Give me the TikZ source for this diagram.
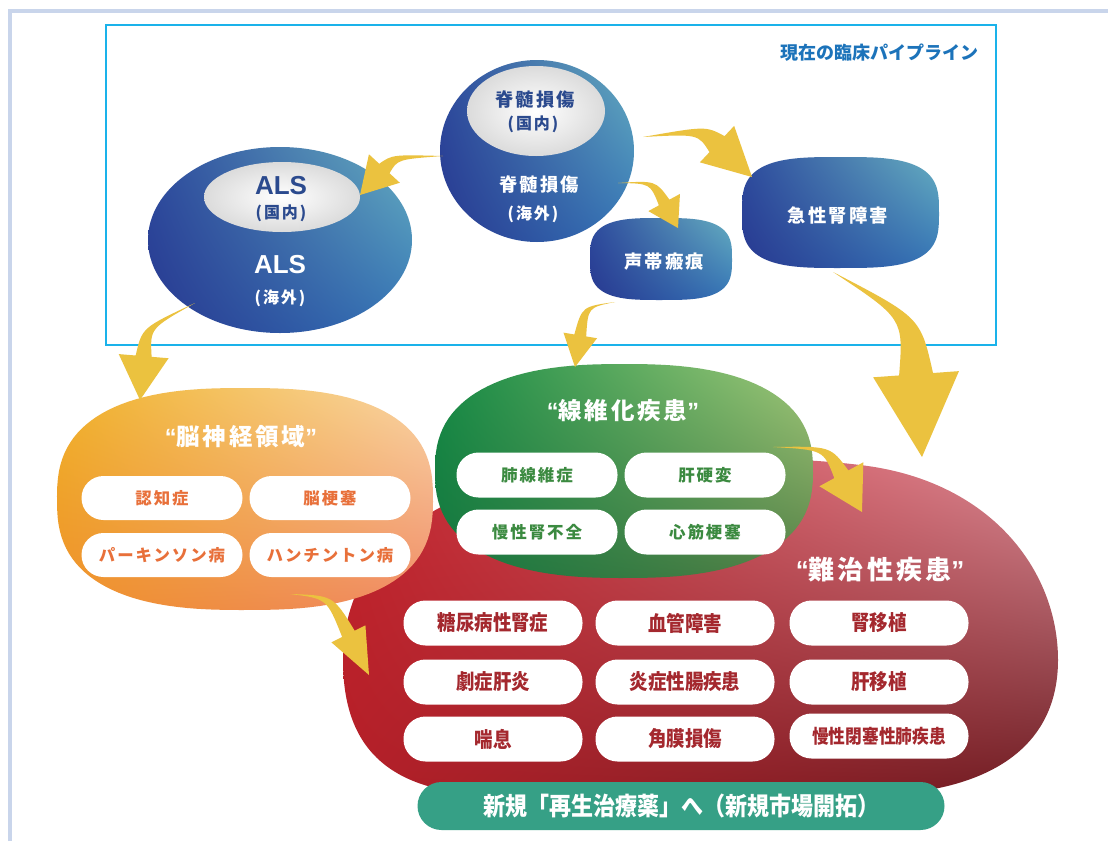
\documentclass[tikz,border=0pt]{standalone}
\usepackage{fontspec}
\newfontfamily\jp{Noto Sans CJK JP}
\newfontfamily\jpsp{Noto Sans CJK JP}[LetterSpace=12]
\newfontfamily\jpcond{Noto Sans CJK JP}[FakeStretch=0.88]
\newfontfamily\lat{Liberation Sans}
\usetikzlibrary{calc,shadings}
\definecolor{frameblue}{HTML}{C9D5EB}
\definecolor{boxcyan}{HTML}{1AB2EA}
\definecolor{labelblue}{HTML}{1C73BA}
\definecolor{navy}{HTML}{2B4A8E}
\definecolor{yel}{HTML}{EBC23F}
\definecolor{bUL}{HTML}{2D4C9E}
\definecolor{bUR}{HTML}{66AEC0}
\definecolor{bLL}{HTML}{283890}
\definecolor{bLR}{HTML}{3474B6}
\definecolor{oUL}{HTML}{F0B22A}
\definecolor{oUR}{HTML}{F9D7A8}
\definecolor{oLL}{HTML}{EE902A}
\definecolor{oLR}{HTML}{F08966}
\definecolor{gUL}{HTML}{168B45}
\definecolor{gUR}{HTML}{A3CA7A}
\definecolor{gLL}{HTML}{15763F}
\definecolor{gLR}{HTML}{557E45}
\definecolor{rUL}{HTML}{C3232C}
\definecolor{rUR}{HTML}{DE8E98}
\definecolor{rLL}{HTML}{B41F28}
\definecolor{rLR}{HTML}{6C1C22}
\definecolor{barg}{HTML}{36A086}
\definecolor{otext}{HTML}{E8703A}
\definecolor{gtext}{HTML}{3B8A40}
\definecolor{rtext}{HTML}{A4282E}
\newcommand\myoq{{\lat\bfseries “}}
\newcommand\mycq{{\lat\bfseries ”}}
\newcommand\blobpath[5]{plot[domain=0.5:360.5,samples=121,variable=\t]({#1+#3*sign(cos(\t))*abs(cos(\t))^#5},{#2+#4*sign(sin(\t))*abs(sin(\t))^#5}) -- cycle}
% tail, control, tip, half body width, half head width, head length
\newcommand\yarrow[6]{%
  \path ($(#3)!#6!(#2)$) coordinate (yaH);
  \fill[yel]
    (#1) .. controls ($(#2)!#4/2!90:(#3)$) .. ($(yaH)!#4!90:(#3)$)
    -- ($(yaH)!#5!90:(#3)$) -- (#3) -- ($(yaH)!#5!-90:(#3)$)
    -- ($(yaH)!#4!-90:(#3)$) .. controls ($(#2)!#4/2!-90:(#3)$) .. (#1) -- cycle;
}
\tikzset{
  bluesh/.style={upper left=bUL, upper right=bUR, lower left=bLL, lower right=bLR},
  orsh/.style={upper left=oUL, upper right=oUR, lower left=oLL, lower right=oLR},
  grsh/.style={upper left=gUL, upper right=gUR, lower left=gLL, lower right=gLR},
  rdsh/.style={upper left=rUL, upper right=rUR, lower left=rLL, lower right=rLR},
  whsh/.style={inner color=white, outer color=black!14},
  bigtxt/.style={inner sep=0pt, font=\jpsp\bfseries\fontsize{18.3}{20}\selectfont},
  partxt/.style={inner sep=0pt, font=\jpsp\bfseries\fontsize{16}{18}\selectfont},
  alstxt/.style={inner sep=0pt, font=\lat\bfseries\fontsize{26}{28}\selectfont},
  ttl/.style={inner sep=0pt, text=white},
  pill/.style={fill=white, rounded corners=22pt, minimum width=161pt, minimum height=44pt, inner sep=0pt},
  opill/.style={pill, text=otext, font=\jpsp\bfseries\fontsize{16.4}{18}\selectfont},
  gpill/.style={pill, text=gtext, font=\jpsp\bfseries\fontsize{16.5}{18}\selectfont},
  rpill/.style={pill, minimum width=179pt, minimum height=45pt, text=rtext, font=\jpcond\bfseries\fontsize{21}{23}\selectfont},
}
\begin{document}
\begin{tikzpicture}[x=1pt,y=-1pt]
\useasboundingbox (0,0) rectangle (1108,841);
\fill[white] (0,0) rectangle (1108,841);
% outer frame
\draw[frameblue, line width=4pt] (10,841) -- (10,11) -- (1108,11);
% red blob
\shade[rdsh] (343,660) .. controls (343,560) and (420,500) .. (520,480)
  .. controls (650,455) and (780,455) .. (860,465)
  .. controls (990,480) and (1058,570) .. (1058,660)
  .. controls (1058,740) and (1000,790) .. (880,795)
  -- (500,795) .. controls (380,795) and (343,740) .. (343,660) -- cycle;
% orange and green blobs
\shade[orsh] \blobpath{245}{499}{188}{111}{0.77};
\shade[grsh] \blobpath{624}{471}{189}{107}{0.8};
% bottom bar
\node[fill=barg, rounded corners=24pt, minimum width=527pt, minimum height=48pt, inner sep=0pt,
      text=white, font=\jpcond\bfseries\fontsize{25}{27}\selectfont] (bar) at (681,806) {新規「再生治療薬」へ（新規市場開拓）};
% pipeline box
\draw[boxcyan, line width=2pt] (106,25) rectangle (996,345);
\node[anchor=east, inner sep=0pt, text=labelblue, font=\jp\bfseries\fontsize{18}{20}\selectfont] (plabel) at (979,53) {現在の臨床パイプライン};
% ALS
\shade[bluesh] (280,240) ellipse [x radius=132, y radius=93];
\shade[whsh] (282,197) ellipse [x radius=78, y radius=35];
\node[alstxt, text=navy] (alsin) at (281,186) {ALS};
\node[partxt, text=navy] (alsin2) at (281,213) {(国内)};
\node[alstxt, text=white] (alsout) at (280,265) {ALS};
\node[partxt, text=white] (alsout2) at (280,298) {(海外)};
% spinal cord
\shade[bluesh] (537,151) ellipse [x radius=97, y radius=91];
\shade[whsh] (536,111) ellipse [x radius=69, y radius=45];
\node[bigtxt, text=navy] (spin) at (535,100) {脊髄損傷};
\node[partxt, text=navy] (spin2) at (533,124) {(国内)};
\node[bigtxt, text=white] (spout) at (539,185) {脊髄損傷};
\node[partxt, text=white] (spout2) at (533,214) {(海外)};
% vocal fold scar
\shade[bluesh] \blobpath{661}{259}{71}{41}{0.62};
\node[bigtxt, text=white] (vocal) at (664,262) {声帯瘢痕};
% acute kidney injury
\shade[bluesh] \blobpath{840.5}{212.5}{98.5}{55.5}{0.62};
\node[bigtxt, text=white] (aki) at (838,215) {急性腎障害};
% neuro
\node[ttl, font=\jpsp\bfseries\fontsize{23.5}{26}\selectfont] (otitle) at (241,437) {\myoq 脳神経領域\mycq};
\node[opill] (o1) at (162,498) {認知症};
\node[opill] (o2) at (330,498) {脳梗塞};
\node[opill] (o3) at (162,555) {パーキンソン病};
\node[opill] (o4) at (330,555) {ハンチントン病};
% fibrosis
\node[ttl, font=\jpsp\bfseries\fontsize{23.5}{26}\selectfont] (gtitle) at (623,411) {\myoq 線維化疾患\mycq};
\node[gpill, minimum height=45pt] (g1) at (537,475) {肺線維症};
\node[gpill, minimum height=45pt] (g2) at (705,475) {肝硬変};
\node[gpill, minimum height=45pt] (g3) at (537,532) {慢性腎不全};
\node[gpill, minimum height=45pt] (g4) at (705,532) {心筋梗塞};
% intractable
\node[ttl, font=\jpsp\bfseries\fontsize{26}{28}\selectfont] (rtitle) at (880,570) {\myoq 難治性疾患\mycq};
\node[rpill] (r1) at (493,623) {糖尿病性腎症};
\node[rpill] (r2) at (685,623) {血管障害};
\node[rpill] (r3) at (879,623) {腎移植};
\node[rpill] (r4) at (493,682) {劇症肝炎};
\node[rpill] (r5) at (685,682) {炎症性腸疾患};
\node[rpill] (r6) at (879,682) {肝移植};
\node[rpill] (r7) at (493,739) {喘息};
\node[rpill] (r8) at (685,739) {角膜損傷};
\node[rpill, font=\jpcond\bfseries\fontsize{19}{21}\selectfont] (r9) at (879,736) {慢性閉塞性肺疾患};
% arrows
\coordinate (a1t) at (443,156); \coordinate (a1c) at (395,157); \coordinate (a1p) at (360,195);
\yarrow{a1t}{a1c}{a1p}{7pt}{21pt}{36pt}
\coordinate (a2t) at (643,137); \coordinate (a2c) at (702,130); \coordinate (a2p) at (752,177);
\yarrow{a2t}{a2c}{a2p}{11pt}{25pt}{48pt}
\coordinate (a3t) at (618,183); \coordinate (a3c) at (653,182); \coordinate (a3p) at (678,228);
\yarrow{a3t}{a3c}{a3p}{6pt}{18pt}{29pt}
\coordinate (a4t) at (195,303); \coordinate (a4c) at (146,328); \coordinate (a4p) at (140,400);
\yarrow{a4t}{a4c}{a4p}{8pt}{25pt}{44pt}
\coordinate (a5t) at (615,302); \coordinate (a5c) at (585,307); \coordinate (a5p) at (575,367);
\yarrow{a5t}{a5c}{a5p}{6pt}{17pt}{32pt}
\coordinate (a6t) at (833,272); \coordinate (a6c) at (912,318); \coordinate (a6p) at (922,457);
\yarrow{a6t}{a6c}{a6p}{17pt}{43pt}{83pt}
\coordinate (a7t) at (773,447); \coordinate (a7c) at (827,448); \coordinate (a7p) at (862,512);
\yarrow{a7t}{a7c}{a7p}{8pt}{25pt}{43pt}
\coordinate (a8t) at (290,594); \coordinate (a8c) at (330,597); \coordinate (a8p) at (369,675);
\yarrow{a8t}{a8c}{a8p}{7pt}{19pt}{46pt}
\end{tikzpicture}
\end{document}
